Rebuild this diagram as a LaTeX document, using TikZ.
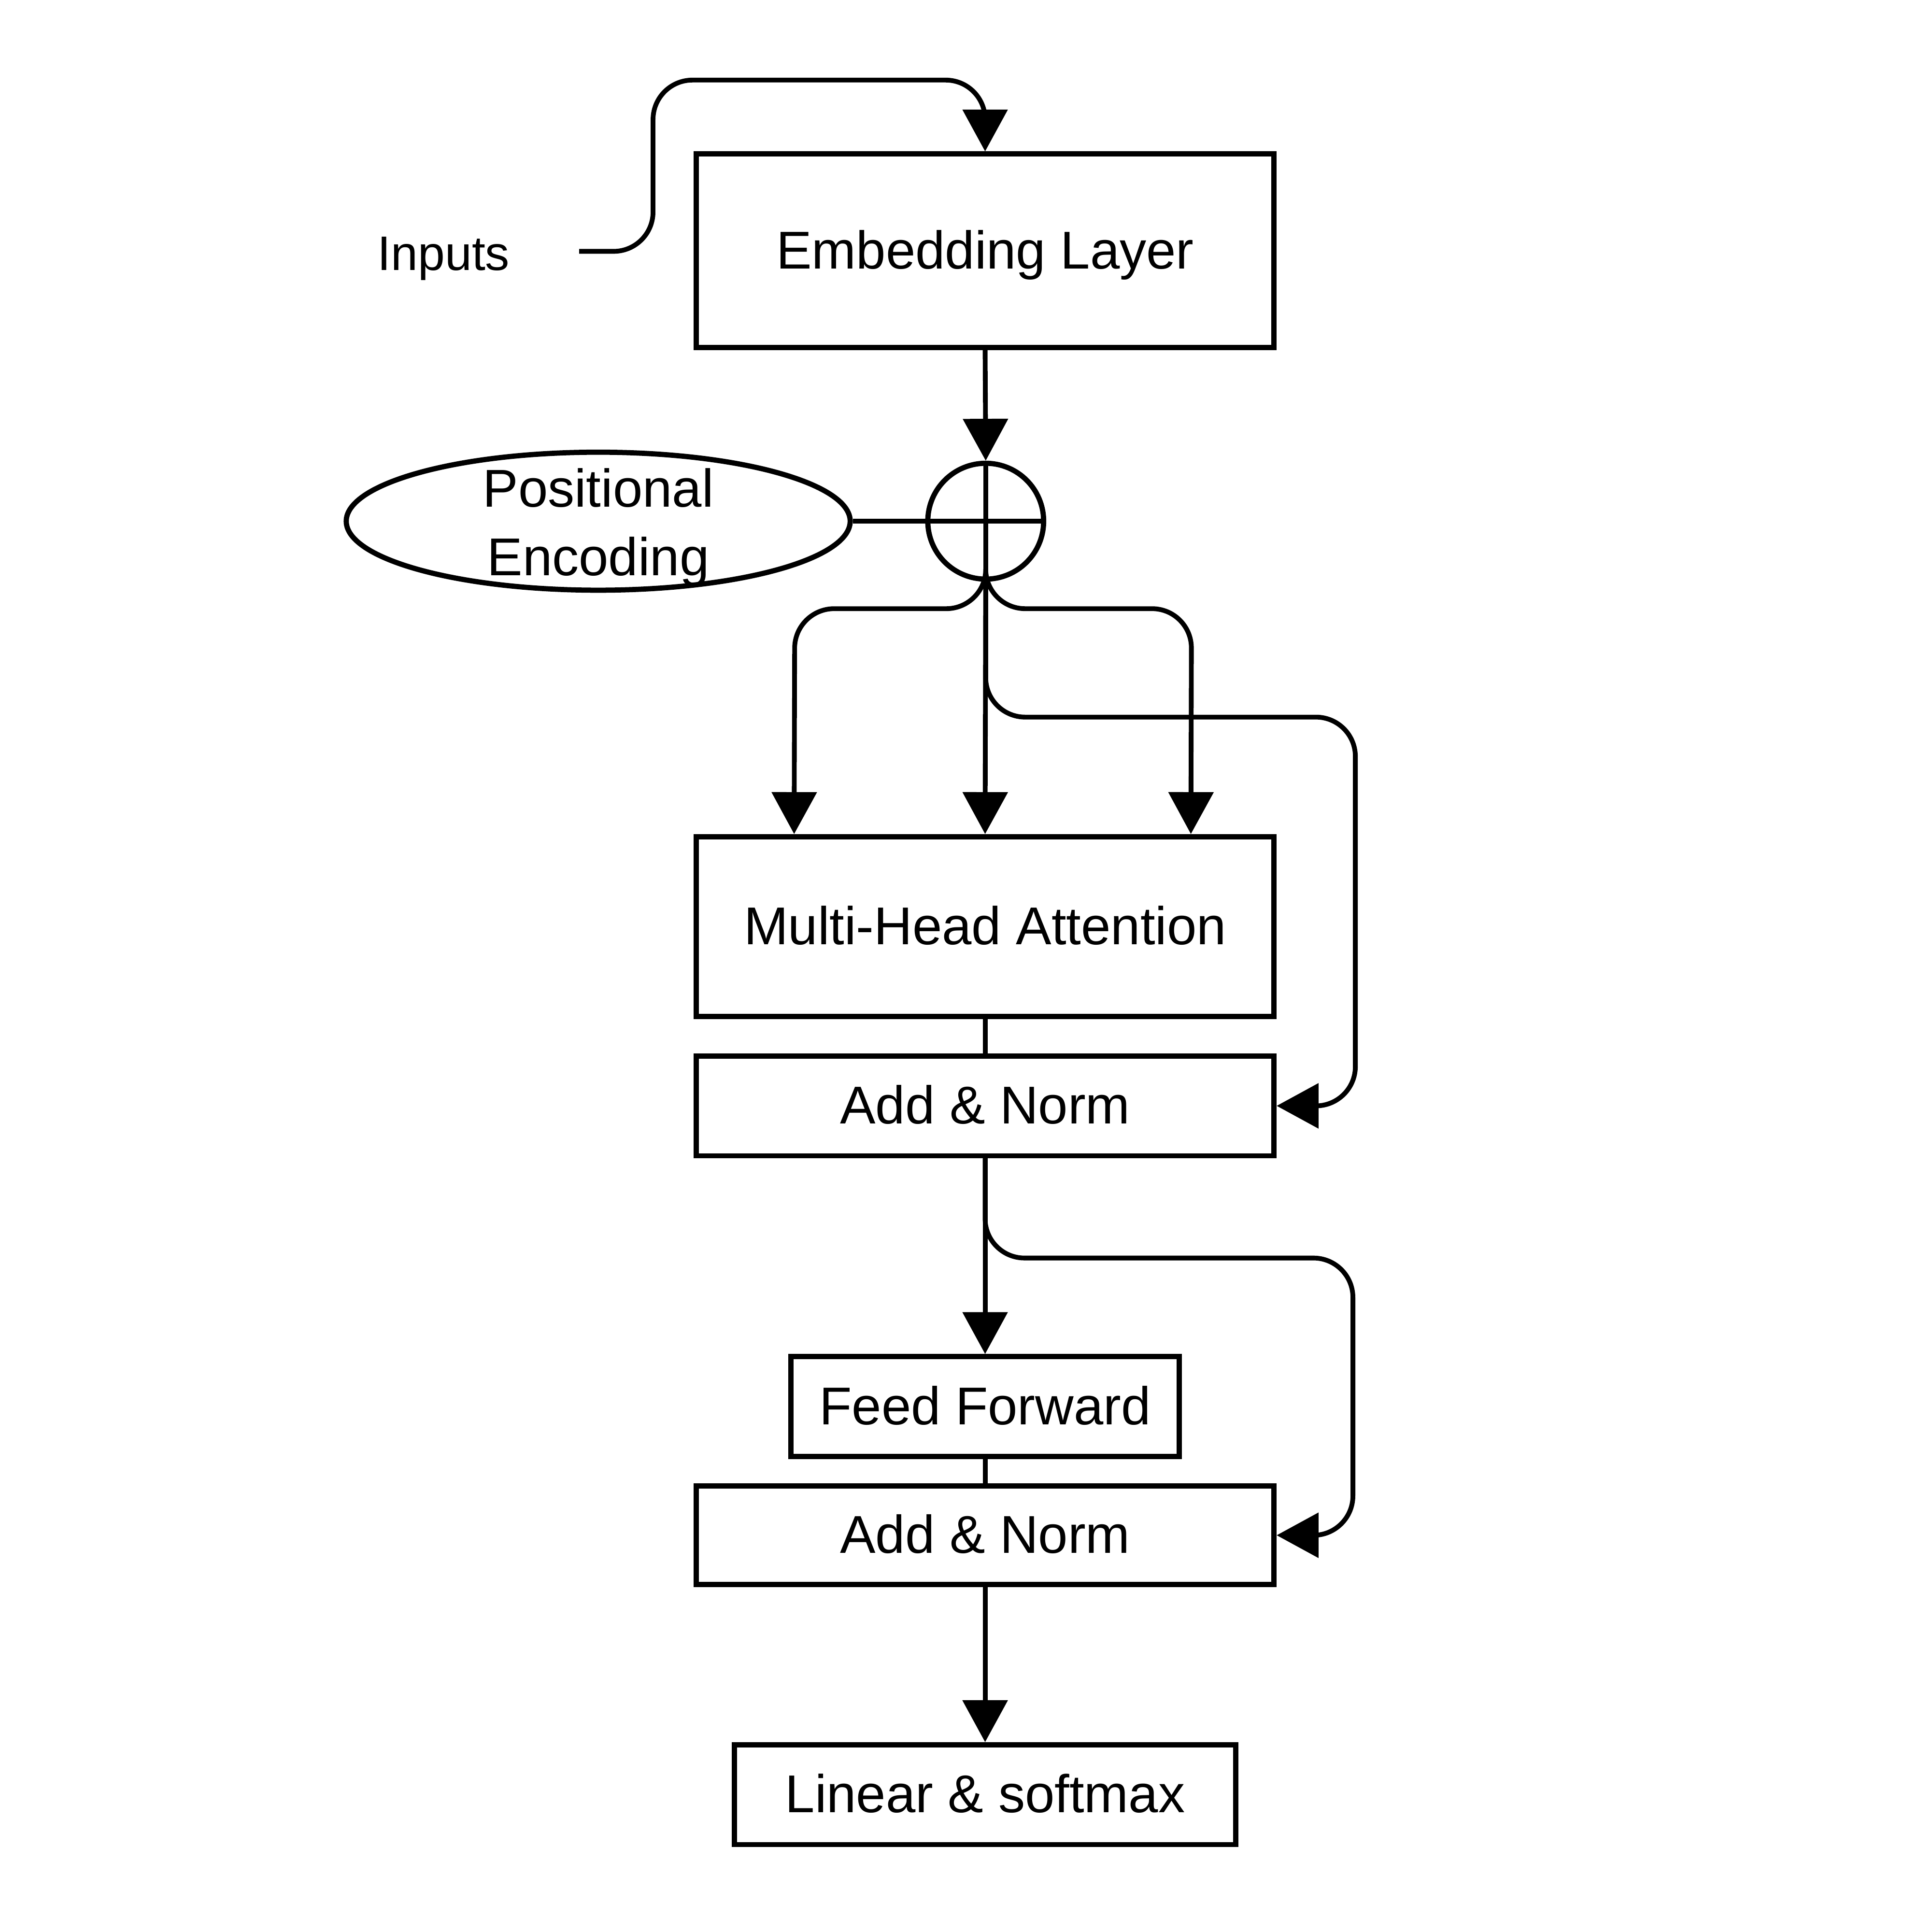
\documentclass[tikz,border=0pt]{standalone}
\usepackage{fontspec}
\setmainfont{Liberation Sans}
\usepackage{tikz}
\usetikzlibrary{arrows.meta,shapes.geometric,calc}
\tikzset{
box/.style = {rectangle, draw=black, line width=1.2pt, minimum width = #1, inner sep=0pt, text height=0.83em, text depth=0pt, font=\fontsize{12.3}{15.9}\selectfont},
box/.default = 4.69cm, % width of the wide boxes
conn/.style = {line width=1.1pt, rounded corners=0.32cm},
tip/.style = {-{Triangle[length=0.34cm,width=0.36cm]}},
}

\begin{document}
\begin{tikzpicture}
    \useasboundingbox (0,0) rectangle (15.68,-15.68);

    \node[box, minimum height=1.57cm] (embBox) at (7.995,-2.035) {Embedding Layer};
    \node[font=\fontsize{11.2}{13}\selectfont] (inputs) at (3.60,-2.10) {Inputs};
    \coordinate (inStart) at (4.70,-2.04);

    \node[circle, draw, line width=1.2pt, minimum size=0.94cm, inner sep=0pt] (plus) at (8.0,-4.23) {};
    \node[ellipse, draw, line width=1.2pt, minimum width=4.09cm, minimum height=1.12cm, inner sep=0pt] (posEnc) at (4.855,-4.23) {};
    \node[align=center, font=\fontsize{12.3}{15.9}\selectfont] (posText) at (4.855,-4.28) {Positional\\Encoding};

    \node[box, minimum height=1.46cm] (mhaBox) at (7.995,-7.52) {Multi-Head Attention};
    \node[box, minimum height=0.81cm] (addA) at (7.995,-8.975) {Add \& Norm};
    \node[box=3.15cm, minimum height=0.81cm] (ffBox) at (7.995,-11.415) {Feed Forward};
    \node[box, minimum height=0.80cm] (addB) at (7.995,-12.46) {Add \& Norm};
    \node[box=4.07cm, minimum height=0.81cm] (linBox) at (7.995,-14.565) {Linear \& softmax};

    \coordinate (qIn) at ($(mhaBox.north)+(-1.55,0)$);
    \coordinate (vIn) at ($(mhaBox.north)+(1.67,0)$);

    \draw[conn, tip] (inStart) -| (5.30,-0.65) -| (embBox.north);
    \draw[conn, tip] (embBox.south) -- (plus.north);
    \draw[conn] (plus.north) -- (plus.south);
    \draw[conn] (posEnc.east) -- (plus.east);

    \draw[conn, tip] (plus.south) |- (6.45,-4.94) -- (qIn);
    \draw[conn, tip] (plus.south) -- (mhaBox.north);
    \draw[conn, tip] (plus.south) |- (9.67,-4.94) -- (vIn);
    \draw[conn, tip] (plus.south) |- (11.0,-5.82) |- (addA.east);

    \draw[conn] (mhaBox.south) -- (addA.north);
    \draw[conn, tip] (addA.south) -- (ffBox.north);
    \draw[conn, tip] (addA.south) |- (10.98,-10.21) |- (addB.east);
    \draw[conn] (ffBox.south) -- (addB.north);
    \draw[conn, tip] (addB.south) -- (linBox.north);
\end{tikzpicture}
\end{document}
